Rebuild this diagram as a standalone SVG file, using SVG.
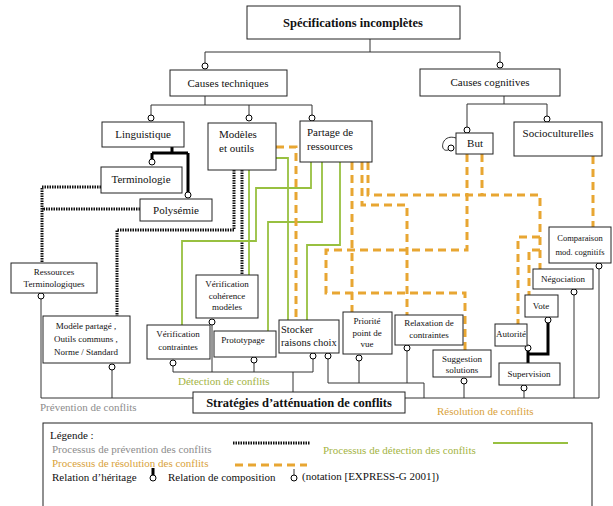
<svg xmlns="http://www.w3.org/2000/svg" width="613" height="506" viewBox="0 0 613 506">
<style>
.box{fill:#fff;stroke:#222;stroke-width:1}
.t{font-family:"Liberation Serif","Times New Roman",serif;font-size:11px;fill:#111;text-anchor:middle}
.s{font-size:9px}
.l{text-anchor:start}
.b{font-weight:bold;font-size:12.5px}
.comp{stroke:#333;stroke-width:1;fill:none}
.inh{stroke:#000;stroke-width:3;fill:none}
.ring{fill:#fff;stroke:#000;stroke-width:1}
.dot{stroke:#111;stroke-width:3;stroke-dasharray:1.5 1;fill:none}
.det{stroke:#98c040;stroke-width:1.8;fill:none}
.res{stroke:#e8a632;stroke-width:3;stroke-dasharray:8 5;fill:none}
.gray{fill:#8c8c8c}
.olive{fill:#a4b444}
.org{fill:#d9a23a}
</style>
<g id="connectors">
<path class="comp" d="M370,39V52M205,52H500M205,52V63M500,52V62M205,96V105M151,105H312M151,105V115M249,105V115M312,105V115M504,96V104M467,104H547M467,104V127M547,104V116"/>
<path class="inh" d="M172,147V153M152,153H188M152,153V159M188,153V192"/>
<path class="inh" d="M528,363V354H548V323M528,354V351"/>
<path class="comp" d="M41,299V398H193M112,370V398"/>
<path class="comp" d="M173,366V372H313M212,325V372M254,363V372M313,359V372M293,372V392"/>
<path class="comp" d="M328,359V383H424V398M359,361V383M407,351V383M405,398H599M464,384V398M524,391V398M574,295V398M599,269V398"/>
<path class="comp" d="M456,138C441,133 439,153 448,150"/>
<path class="dot" d="M101,187H42V263M140,209H42M234,170V230H117V316M242,170V275"/>
<path class="det" d="M249,170V275M276,158H288V320M311,162V188H256V241H182V325M322,162V222H268V331M340,162V245H307V320"/>
<path class="res" d="M276,147H296V320M352,162V312M362,162V205H407V315M368,162V195H540V269M482,154V195M540,237H518V324M540,250H529V295M467,154V250H326V293H465V350M593,156V227"/>
<g class="ring">
<circle cx="205" cy="66" r="3"/><circle cx="500" cy="65" r="3"/><circle cx="151" cy="118" r="3"/><circle cx="249" cy="118" r="3"/><circle cx="312" cy="118" r="3"/><circle cx="467" cy="130" r="3"/><circle cx="547" cy="119" r="3"/>
<circle cx="152" cy="162" r="3"/><circle cx="188" cy="195" r="3"/><circle cx="528" cy="348" r="3"/><circle cx="548" cy="320" r="3"/>
<circle cx="41" cy="296" r="3"/><circle cx="112" cy="367" r="3"/>
<circle cx="173" cy="363" r="3"/><circle cx="212" cy="322" r="3"/><circle cx="254" cy="360" r="3"/><circle cx="313" cy="356" r="3"/>
<circle cx="328" cy="356" r="3"/><circle cx="359" cy="358" r="3"/><circle cx="407" cy="348" r="3"/><circle cx="464" cy="381" r="3"/><circle cx="524" cy="388" r="3"/><circle cx="574" cy="292" r="3"/><circle cx="599" cy="266" r="3"/>
<circle cx="451" cy="148" r="3"/>
</g>
</g>
<g id="spec"><rect class="box" x="247" y="6" width="213" height="33"/><text class="t b" x="353" y="27">Spécifications incomplètes</text></g>
<g id="ctech"><rect class="box" x="170" y="70" width="117" height="26"/><text class="t" x="228" y="87">Causes techniques</text></g>
<g id="ccog"><rect class="box" x="420" y="69" width="140" height="27"/><text class="t" x="490" y="86">Causes cognitives</text></g>
<g id="ling"><rect class="box" x="102" y="122" width="82" height="25"/><text class="t" x="143" y="138">Linguistique</text></g>
<g id="modeles"><rect class="box" x="208" y="123" width="68" height="47"/><text class="t l" x="219" y="138">Modèles</text><text class="t l" x="219" y="152">et outils</text></g>
<g id="partage"><rect class="box" x="300" y="121" width="72" height="41"/><text class="t l" x="307" y="136">Partage de</text><text class="t l" x="307" y="150">ressources</text></g>
<g id="but"><rect class="box" x="456" y="133" width="37" height="21"/><text class="t" x="475" y="147">But</text></g>
<g id="socio"><rect class="box" x="514" y="122" width="88" height="34"/><text class="t" x="558" y="137">Socioculturelles</text></g>
<g id="termino"><rect class="box" x="101" y="167" width="81" height="26"/><text class="t" x="141" y="183">Terminologie</text></g>
<g id="poly"><rect class="box" x="140" y="199" width="72" height="22"/><text class="t" x="176" y="214">Polysémie</text></g>
<g id="resterm"><rect class="box" x="11" y="263" width="86" height="30"/><text class="t s" x="54" y="275">Ressources</text><text class="t s" x="54" y="287">Terminologiques</text></g>
<g id="modpart"><rect class="box" x="43" y="316" width="87" height="47"/><text class="t s" x="86" y="329">Modèle partagé ,</text><text class="t s" x="86" y="342">Outils communs ,</text><text class="t s" x="86" y="355">Norme / Standard</text></g>
<g id="verifc"><rect class="box" x="147" y="325" width="63" height="34"/><text class="t s" x="178" y="337">Vérification</text><text class="t s" x="178" y="350">contraintes</text></g>
<g id="verifcoh"><rect class="box" x="196" y="275" width="62" height="43"/><text class="t s" x="227" y="287">Vérification</text><text class="t s" x="227" y="299">cohérence</text><text class="t s" x="227" y="310">modèles</text></g>
<g id="proto"><rect class="box" x="214" y="331" width="62" height="26"/><text class="t s" x="243" y="343">Prototypage</text></g>
<g id="stocker"><rect class="box" x="279" y="320" width="60" height="33"/><text class="t l" x="281" y="333" style="font-size:10.5px">Stocker</text><text class="t l" x="281" y="346" style="font-size:10.5px">raisons choix</text></g>
<g id="priorite"><rect class="box" x="343" y="312" width="49" height="42"/><text class="t s" x="367" y="324">Priorité</text><text class="t s" x="367" y="336">point de</text><text class="t s" x="367" y="347">vue</text></g>
<g id="relax"><rect class="box" x="395" y="315" width="68" height="30"/><text class="t s" x="429" y="326">Relaxation de</text><text class="t s" x="429" y="338">contraintes</text></g>
<g id="suggest"><rect class="box" x="433" y="350" width="58" height="27"/><text class="t s" x="462" y="362">Suggestion</text><text class="t s" x="462" y="373">solutions</text></g>
<g id="superv"><rect class="box" x="499" y="363" width="61" height="22"/><text class="t s" x="529" y="377">Supervision</text></g>
<g id="autorite"><rect class="box" x="495" y="324" width="32" height="22"/><text class="t s" x="511" y="337">Autorité</text></g>
<g id="vote"><rect class="box" x="525" y="295" width="33" height="22"/><text class="t s" x="541" y="309">Vote</text></g>
<g id="nego"><rect class="box" x="533" y="269" width="60" height="20"/><text class="t s" x="563" y="282">Négociation</text></g>
<g id="compar"><rect class="box" x="549" y="227" width="62" height="36"/><text class="t s" x="580" y="241" style="font-size:8.5px">Comparaison</text><text class="t s" x="580" y="255" style="font-size:8.5px">mod. cognitifs</text></g>
<g id="strat"><rect class="box" x="193" y="392" width="212" height="21"/><text class="t b" x="299" y="407">Stratégies d’atténuation de conflits</text></g>
<g id="labels">
<text class="t l gray" x="40" y="411">Prévention de conflits</text>
<text class="t l olive" x="178" y="385">Détection de conflits</text>
<text class="t l org" x="437" y="415">Résolution de conflits</text>
</g>
<g id="legend">
<rect class="box" x="43" y="423" width="549" height="90"/>
<text class="t l" x="50" y="439">Légende :</text>
<text class="t l gray" x="52" y="453">Processus de prévention des conflits</text>
<path class="dot" d="M233,443H310"/>
<text class="t l olive" x="323" y="454">Processus de détection des conflits</text>
<path class="det" d="M493,443H568"/>
<text class="t l org" x="52" y="467">Processus de résolution des conflits</text>
<path class="res" d="M235,465H307"/>
<text class="t l" x="52" y="481">Relation d’héritage</text>
<path class="inh" d="M153,468V475"/>
<circle class="ring" cx="153" cy="478" r="3"/>
<text class="t l" x="168" y="481">Relation de composition</text>
<path class="comp" d="M294,469V475"/>
<circle class="ring" cx="294" cy="478" r="3"/>
<text class="t l" x="302" y="480">(notation [EXPRESS-G 2001])</text>
</g>
</svg>
